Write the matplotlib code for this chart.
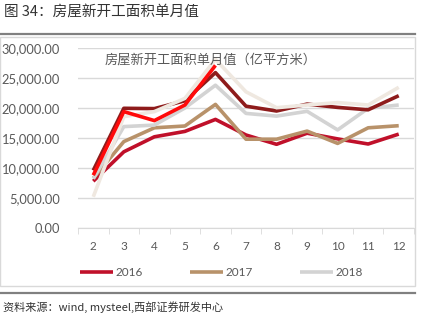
import matplotlib
matplotlib.use("Agg")
import matplotlib.pyplot as plt
from matplotlib.lines import Line2D
from matplotlib.patches import Rectangle

plt.rcParams['font.family'] = ['Noto Sans CJK SC', 'DejaVu Sans']

# months on the x axis
mesi = [2, 3, 4, 5, 6, 7, 8, 9, 10, 11, 12]

# single-month new construction area
v2016 = [7800, 12700, 15200, 16100, 18100, 15500, 13950, 15800, 14850, 14000, 15650]
v2017 = [8300, 14400, 16700, 17000, 20600, 14800, 14800, 16150, 14100, 16700, 17050]
v2018 = [8200, 16900, 17150, 20000, 23800, 19100, 18650, 19450, 16350, 19950, 20500]
v2019 = [9600, 19950, 19900, 21200, 25900, 20300, 19500, 20650, 20100, 19700, 22050]
v2020 = [8800, 19400, 17900, 20500, 27100]
v2021 = [5200, 18550, 19400, 21600, 28100, 22700, 20050, 20500, 20900, 20500, 23450]

etichette_y = ["0.00", "5,000.00", "10,000.00", "15,000.00", "20,000.00", "25,000.00", "30,000.00"]
valori_y = [0, 5000, 10000, 15000, 20000, 25000, 30000]

W, H = 437, 326
fig = plt.figure(figsize=(W / 100, H / 100), dpi=100)

# cornice esterna e linee separatrici
fig.patches.append(Rectangle((0, 1 - 286 / H), 415 / W, 249 / H, transform=fig.transFigure,
                             fill=False, edgecolor="#d9d9d9", linewidth=1))
fig.add_artist(Line2D([0, 415 / W], [1 - 34 / H, 1 - 34 / H], transform=fig.transFigure,
                      color="#808080", linewidth=1.6))
fig.add_artist(Line2D([0, 415 / W], [1 - 293 / H, 1 - 293 / H], transform=fig.transFigure,
                      color="#808080", linewidth=1.6))

fig.text(4 / W, 1 - 12 / H, "图 34：房屋新开工面积单月值", fontsize=10.5, color="#333333", va="center")
fig.text(3 / W, 1 - 307 / H, "资料来源：wind, mysteel,西部证券研发中心", fontsize=8,
         color="#333333", va="center")

ax = fig.add_axes([78 / W, 1 - 228 / H, 336 / W, 180 / H])
x = list(range(len(mesi)))

ax.plot(x, v2016, color="#C0102A", linewidth=2.6, label="2016", solid_capstyle="butt")
ax.plot(x, v2017, color="#B8926A", linewidth=2.6, label="2017", solid_capstyle="butt")
ax.plot(x, v2018, color="#D3D3D3", linewidth=2.6, label="2018", solid_capstyle="butt")
ax.plot(x, v2019, color="#8E1B1B", linewidth=2.6, solid_capstyle="butt")
ax.plot(x, v2021, color="#EFE8E0", linewidth=2.6, solid_capstyle="butt")
ax.plot(x[:len(v2020)], v2020, color="#FF0A0A", linewidth=2.6, solid_capstyle="butt")

ax.set_xlim(-0.5, len(mesi) - 0.5)
ax.set_ylim(0, 30000)
ax.set_yticks(valori_y)
ax.set_yticklabels(etichette_y)
ax.set_xticks(x)
ax.set_xticklabels([str(m) for m in mesi])
ax.set_xticks([i - 0.5 for i in range(len(mesi) + 1)], minor=True)
ax.tick_params(axis="x", which="major", length=0, pad=9, labelsize=8.5, labelcolor="#595959")
ax.tick_params(axis="x", which="minor", length=4, color="#d9d9d9")
ax.tick_params(axis="y", length=0, pad=13, labelsize=9.3, labelcolor="#595959")
for lab in ax.get_yticklabels() + ax.get_xticklabels():
    lab.set_family("Lato")

ax.grid(axis="y", color="#d9d9d9", linewidth=1)
ax.set_axisbelow(True)
for s in ["top", "right", "left"]:
    ax.spines[s].set_visible(False)
ax.spines["bottom"].set_color("#d9d9d9")

ax.text(0.08, 0.93, "房屋新开工面积单月值（亿平方米）", transform=ax.transAxes, fontsize=9.5,
        color="#595959", va="center", ha="left")

leg = fig.legend(loc="center", bbox_to_anchor=(221 / W, 1 - 273 / H), ncol=3, frameon=False,
                 fontsize=8.5, handlelength=2.8, columnspacing=4.0, handletextpad=0.2)
for t in leg.get_texts():
    t.set_color("#595959")
    t.set_family("Lato")

fig.savefig("out.png", dpi=100)
